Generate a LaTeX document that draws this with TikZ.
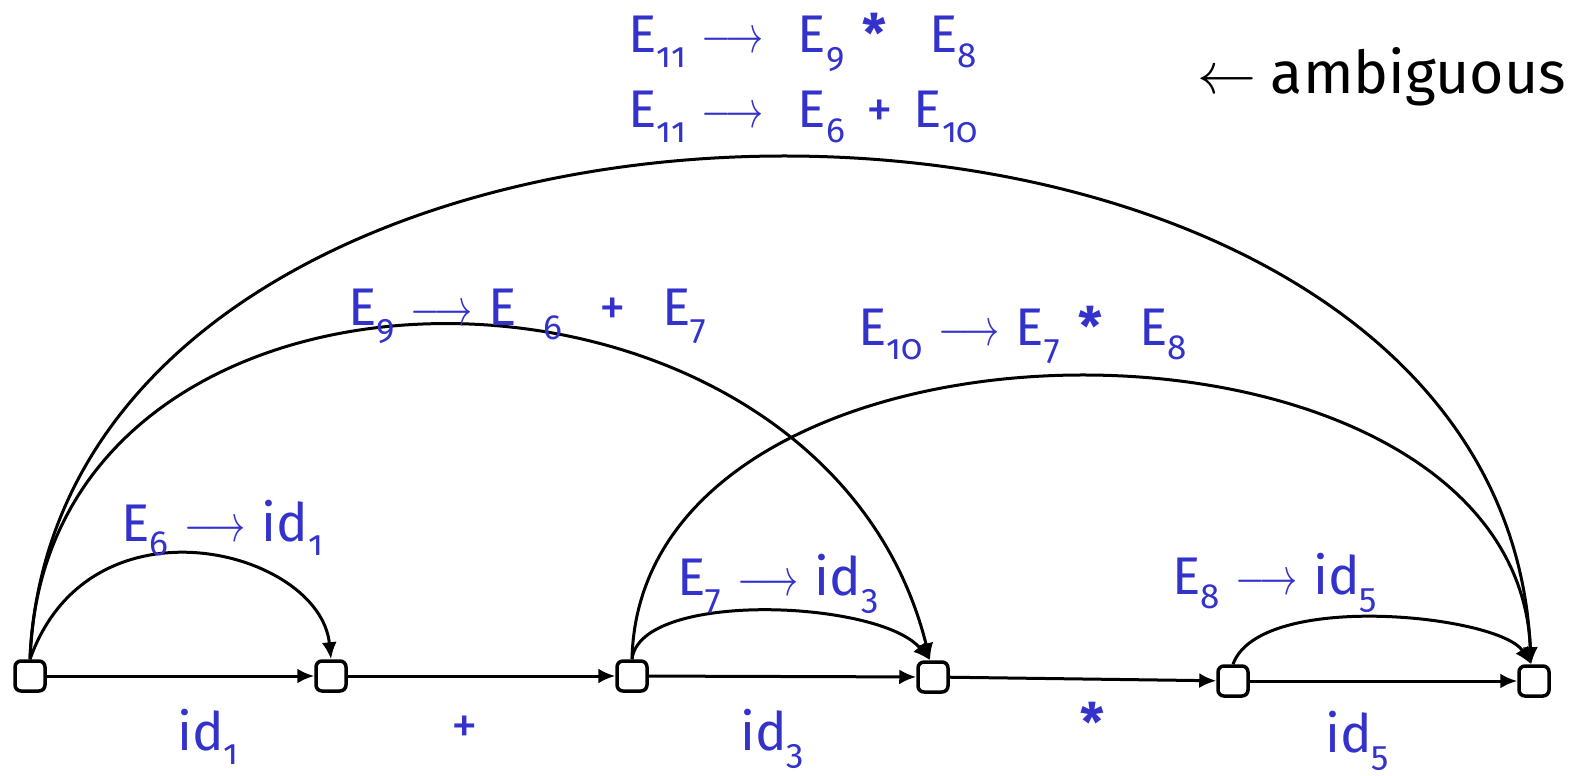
\RequirePackage{fix-cm}
\documentclass[tikz,border=0pt]{standalone}
\usepackage{fontspec}
\setmainfont{Fira Sans}[Numbers=OldStyle]
\usetikzlibrary{arrows.meta}
\definecolor{lblue}{RGB}{51,51,204}
\newcommand\subs[1]{\raisebox{-0.28em}{\fontsize{35}{35}\selectfont #1}}
\newcommand\lar{\hspace{0.3em}\scalebox{0.72}[1]{$\longrightarrow$}\hspace{0.3em}}
\newcommand\bast{\textbf{*}}
\begin{document}
\begin{tikzpicture}[x=1pt,y=-1pt,
  box/.style={draw, line width=3.5pt, rounded corners=6pt, minimum size=30pt, inner sep=0pt, fill=white},
  edge/.style={line width=3pt, -{Latex[length=17pt,width=15pt]}},
  lbl/.style={text=lblue, anchor=base west, inner sep=0pt, font=\fontsize{53}{53}\selectfont},
  blk/.style={text=black, anchor=base west, inner sep=0pt, font=\fontsize{59}{59}\selectfont}]
\useasboundingbox (0,0) rectangle (1580,776);
\node[box] (n1) at (30,676) {};
\node[box] (n2) at (331,676) {};
\node[box] (n3) at (632,676) {};
\node[box] (n4) at (933,677) {};
\node[box] (n5) at (1233,681) {};
\node[box] (n6) at (1534,681) {};
\draw[edge] (n1) -- (n2);
\draw[edge] (n2) -- (n3);
\draw[edge] (n3) -- (n4);
\draw[edge] (n4) -- (n5);
\draw[edge] (n5) -- (n6);
% arcs
\draw[edge] (n1.north) .. controls (90,490) and (320,550) .. (n2.north);
\draw[edge] (n1.north) .. controls (45,210) and (820,218) .. (n4.100);
\draw[edge] (n1.north) .. controls (60,-10) and (1500,-10) .. (n6.100);
\draw[edge] (n3.north) .. controls (640,590) and (880,600) .. (n4.100);
\draw[edge] (n3.north) .. controls (640,282) and (1515,282) .. (n6.100);
\draw[edge] (n5.north) .. controls (1260,590) and (1500,615) .. (n6.100);
% labels
\node[lbl] (l11a) at (628,53) {E\subs{11}\lar\hspace{0.35em}E\subs{9}\hspace{0.35em}\bast\hspace{0.8em}E\subs{8}};
\node[lbl] (l11b) at (628,128) {E\subs{11}\lar\hspace{0.35em}E\subs{6}\hspace{0.4em}+\hspace{0.4em}E\subs{10}};
\node[blk] (amb) at (1197,93) {$\leftarrow$\hspace{0.25em}ambiguous};
\node[lbl] (l9) at (348,325) {E\subs{9}\lar E\hspace{0.5em}\subs{6}\hspace{0.7em}+\hspace{0.7em}E\subs{7}};
\node[lbl] (l10) at (858,345) {E\subs{10}\lar E\subs{7}\hspace{0.35em}\bast\hspace{0.7em}E\subs{8}};
\node[lbl] (l6) at (121,541) {E\subs{6}\lar id\subs{1}};
\node[lbl] (l7) at (677,595) {E\subs{7}\lar id\subs{3}};
\node[lbl] (l8) at (1172,594) {E\subs{8}\lar id\subs{5}};
\node[lbl] (t1) at (177,750) {id\subs{1}};
\node[lbl, anchor=center] (t2) at (465,730) {+};
\node[lbl] (t3) at (740,750) {id\subs{3}};
\node[lbl, anchor=center] (t4) at (1092,722) {\bast};
\node[lbl] (t5) at (1325,752) {id\subs{5}};
\end{tikzpicture}
\end{document}
